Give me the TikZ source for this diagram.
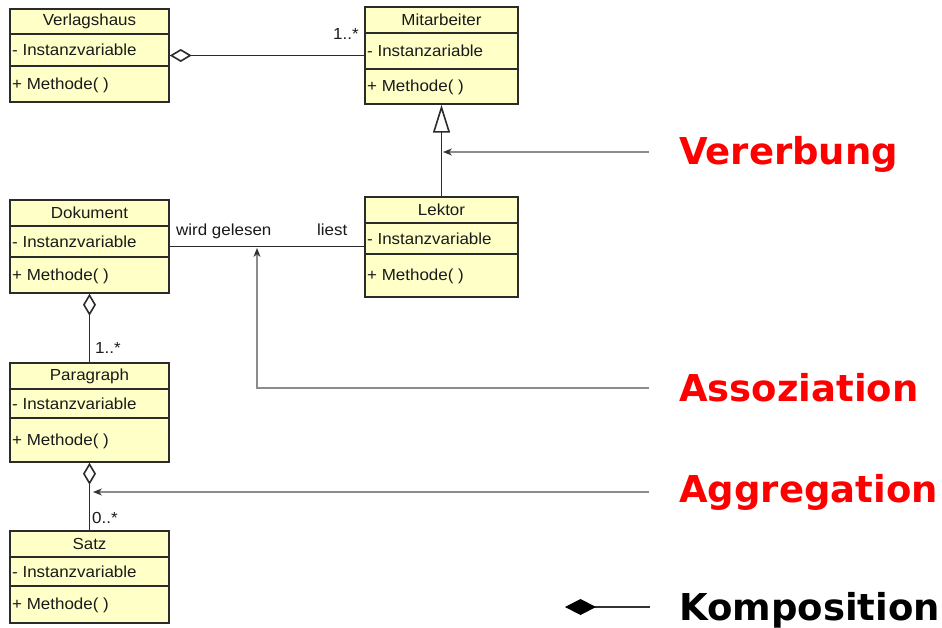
\documentclass[tikz,border=0pt]{standalone}
\usepackage{fontspec}
\setmainfont{Liberation Sans}
\newfontfamily\umlfont[FakeStretch=1.06]{Liberation Sans}
\newfontfamily\labfont{DejaVu Sans}
\usetikzlibrary{arrows.meta,calc}
\definecolor{umlfill}{HTML}{FFFFC8}
\definecolor{umlline}{HTML}{2B2B2B}
\definecolor{umltextc}{HTML}{1A1A1A}
\definecolor{ptr}{HTML}{8C8C8C}
\definecolor{ptrtip}{HTML}{333333}
\tikzset{
  classbox/.style={draw=umlline, fill=umlfill, line width=1.5pt, inner sep=0pt},
  classline/.style={draw=umlline, line width=1.5pt},
  umltext/.style={font=\umlfont\fontsize{16}{19}\selectfont, inner sep=1pt, text=umltextc},
  conn/.style={draw=umlline, line width=1.6pt},
  aggtip/.style={{Diamond[open, fill=white, length=22pt, width=13pt]}-},
  ptrline/.style={draw=ptr, line width=1.3pt, -{Stealth[length=9pt, width=7pt, color=ptrtip]}},
  biglab/.style={font=\labfont\bfseries\fontsize{37}{44}\selectfont, inner sep=0pt, anchor=base west},
}
\newcommand\umlclass[9]{%
  \node[classbox, minimum width={#4pt-#2pt}, minimum height={#5pt-#3pt}] (#1) at ({(#2+#4)/2},{(#3+#5)/2}) {};
  \draw[classline] (#2,#6) -- (#4,#6) (#2,#7) -- (#4,#7);
  \node[umltext] (#1-title) at ({(#2+#4)/2},{(#3+#6)/2}) {#8};
  \node[umltext, anchor=west] (#1-attr) at (#2+1,{(#6+#7)/2}) {- #9};
  \node[umltext, anchor=west] (#1-meth) at (#2+1,{(#7+#5)/2+1}) {+ Methode( )};
}
\begin{document}
\begin{tikzpicture}[x=1pt, y=-1pt]
\useasboundingbox[fill=white] (0,0) rectangle (942,628);
% classes
\umlclass{verlag}{10}{9}{169}{102}{34}{66}{Verlagshaus}{Instanzvariable}
\umlclass{mitarb}{365}{7}{518}{104}{33}{69}{Mitarbeiter}{Instanzariable}
\umlclass{dok}{10}{200}{169}{293}{226}{257}{Dokument}{Instanzvariable}
\umlclass{lektor}{365}{197}{518}{297}{223}{254}{Lektor}{Instanzvariable}
\umlclass{para}{10}{363}{169}{462}{389}{418}{Paragraph}{Instanzvariable}
\umlclass{satz}{10}{531}{169}{623}{557}{586}{Satz}{Instanzvariable}
% connectors
\draw[conn, aggtip] (verlag.east) -- (verlag.east -| mitarb.west);
\draw[conn, aggtip] (dok.south) -- (para.north);
\draw[conn, aggtip] (para.south) -- (satz.north);
\draw[conn, -{Triangle[open, fill=white, length=28pt, width=17pt]}] (lektor.north) -- (mitarb.south);
\draw[conn] (dok.east) -- (dok.east -| lektor.west);
% multiplicities and roles
\node[umltext, anchor=base west] (m1) at (332,40) {1..*};
\node[umltext, anchor=base west] (m2) at (94,353) {1..*};
\node[umltext, anchor=base west] (m3) at (91,523) {0..*};
\node[umltext, anchor=base west] (r1) at (175,236) {wird gelesen};
\node[umltext, anchor=base west] (r2) at (316,236) {liest};
% pointers and labels
\node[biglab, text=red] (vererb) at (679,165) {Vererbung};
\node[biglab, text=red] (assoz) at (679,401) {Assoziation};
\node[biglab, text=red] (aggr) at (679,502) {Aggregation};
\node[biglab, text=black] (komp) at (679,620) {Komposition};
\coordinate (p1s) at (649,152);
\coordinate (p1e) at (443,152);
\coordinate (p2s) at (649,388);
\coordinate (p2e) at (257,248);
\coordinate (p3s) at (649,492);
\coordinate (p3e) at (93,492);
\draw[ptrline] (p1s) -- (p1e);
\draw[ptrline] (p2s) -| (p2e);
\draw[ptrline] (p3s) -- (p3e);
\coordinate (ks) at (565,607);
\coordinate (ke) at (650,607);
\draw[line width=1.3pt, draw=black!80, {Diamond[length=31pt, width=16pt, color=black]}-] (ks) -- (ke);
\end{tikzpicture}
\end{document}
